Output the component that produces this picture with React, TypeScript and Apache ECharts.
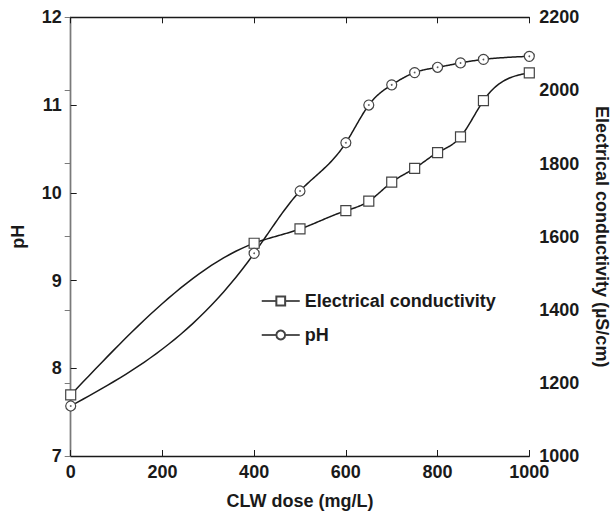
import React, { useEffect, useRef } from "react";
import * as echarts from "echarts";

const doses = [0, 400, 500, 600, 650, 700, 750, 800, 850, 900, 1000];
const phValues = [7.57, 9.31, 10.02, 10.57, 11.0, 11.23, 11.37, 11.43, 11.48, 11.52, 11.555];
const ecValues = [1167, 1582, 1621, 1671, 1697, 1749, 1787, 1830, 1873, 1972, 2048];

const FONT = "'Liberation Sans', Arial, Helvetica, sans-serif";
const INK = "#1a1a1a";

// natural cubic spline second derivatives
function splineM(xs: number[], ys: number[]): number[] {
  const n = xs.length;
  const h: number[] = [];
  for (let i = 0; i < n - 1; i++) h.push(xs[i + 1] - xs[i]);
  const a: number[] = new Array(n).fill(0);
  const b: number[] = new Array(n).fill(1);
  const c: number[] = new Array(n).fill(0);
  const d: number[] = new Array(n).fill(0);
  for (let i = 1; i < n - 1; i++) {
    a[i] = h[i - 1];
    b[i] = 2 * (h[i - 1] + h[i]);
    c[i] = h[i];
    d[i] = 6 * ((ys[i + 1] - ys[i]) / h[i] - (ys[i] - ys[i - 1]) / h[i - 1]);
  }
  const cp: number[] = new Array(n).fill(0);
  const dp: number[] = new Array(n).fill(0);
  cp[0] = c[0] / b[0];
  dp[0] = d[0] / b[0];
  for (let i = 1; i < n; i++) {
    const m = b[i] - a[i] * cp[i - 1];
    cp[i] = c[i] / m;
    dp[i] = (d[i] - a[i] * dp[i - 1]) / m;
  }
  const M: number[] = new Array(n).fill(0);
  M[n - 1] = dp[n - 1];
  for (let i = n - 2; i >= 0; i--) M[i] = dp[i] - cp[i] * M[i + 1];
  return M;
}

function splineSegment(xs: number[], ys: number[], M: number[], i: number, steps: number): number[][] {
  const x0 = xs[i], x1 = xs[i + 1];
  const y0 = ys[i], y1 = ys[i + 1];
  const h = x1 - x0;
  const pts: number[][] = [];
  for (let k = 0; k <= steps; k++) {
    const x = x0 + (h * k) / steps;
    const A = (x1 - x) / h;
    const B = (x - x0) / h;
    const y = A * y0 + B * y1 + ((A * A * A - A) * M[i] + (B * B * B - B) * M[i + 1]) * (h * h) / 6;
    pts.push([x, y]);
  }
  return pts;
}

export default function App() {
  const ref = useRef<HTMLDivElement>(null);
  useEffect(() => {
    document.body.style.margin = "0";
    if (!ref.current) return;
    const chart = echarts.init(ref.current, undefined, { renderer: "svg" });
    const phData = doses.map((d, i) => [d, phValues[i]]);
    const ecData = doses.map((d, i) => [d, ecValues[i]]);
    const phM = splineM(doses, phValues);
    const ecM = splineM(doses, ecValues);
    const makeRender = (ys: number[], M: number[]) => (params: any, api: any) => {
      const i = params.dataIndex;
      if (i >= doses.length - 1) return null;
      const pts = splineSegment(doses, ys, M, i, 30).map((p) => api.coord(p));
      return {
        type: "polyline",
        shape: { points: pts },
        style: { stroke: INK, lineWidth: 1.5, fill: "none" },
        silent: true,
      };
    };
    const labelStyle = { color: INK, fontFamily: FONT, fontWeight: "bold" as const, fontSize: 18 };
    const nameStyle = { color: INK, fontFamily: FONT, fontWeight: "bold" as const, fontSize: 18 };
    chart.setOption({
      animation: false,
      backgroundColor: "#ffffff",
      grid: { left: 70.7, right: 81.7, top: 17.3, bottom: 55, containLabel: false, outerBoundsMode: "none" },
      legend: {
        data: ["Electrical conductivity", "pH"],
        orient: "vertical",
        left: 261,
        top: 292,
        padding: 0,
        itemWidth: 38,
        itemHeight: 11,
        itemGap: 16,
        lineStyle: { color: INK, width: 1.5, opacity: 1 },
        textStyle: { color: INK, fontFamily: FONT, fontWeight: "bold", fontSize: 18 },
      },
      xAxis: [
        {
          type: "value",
          min: 0,
          max: 1000,
          interval: 200,
          position: "bottom",
          name: "CLW dose (mg/L)",
          nameLocation: "middle",
          nameGap: 36,
          nameTextStyle: nameStyle,
          axisLine: { show: true, lineStyle: { color: INK, width: 1.3 } },
          axisTick: { show: true, inside: true, length: 6, lineStyle: { color: INK } },
          axisLabel: { ...labelStyle, margin: 7, formatter: (v: number) => String(v) },
          splitLine: { show: false },
        },
        {
          type: "value",
          min: 0,
          max: 1000,
          interval: 200,
          position: "top",
          axisLine: { show: true, lineStyle: { color: INK, width: 1.3 } },
          axisTick: { show: true, inside: true, length: 6, lineStyle: { color: INK } },
          axisLabel: { show: false },
          splitLine: { show: false },
        },
      ],
      yAxis: [
        {
          type: "value",
          min: 7,
          max: 12,
          interval: 1,
          position: "left",
          name: "pH",
          nameLocation: "middle",
          nameGap: 44,
          nameRotate: 90,
          nameTextStyle: nameStyle,
          axisLine: { show: true, lineStyle: { color: INK, width: 1.3 } },
          axisTick: { show: true, inside: true, length: 6, lineStyle: { color: INK } },
          axisLabel: { ...labelStyle, margin: 9, formatter: (v: number) => String(v) },
          splitLine: { show: false },
        },
        {
          type: "value",
          min: 1000,
          max: 2200,
          interval: 200,
          position: "right",
          name: "Electrical conductivity (µS/cm)",
          nameLocation: "middle",
          nameGap: 64,
          nameRotate: -90,
          nameTextStyle: nameStyle,
          axisLine: { show: true, lineStyle: { color: "#7a7a7a", width: 1.3 } },
          axisTick: { show: true, inside: true, length: 6, lineStyle: { color: "#7a7a7a" } },
          axisLabel: { ...labelStyle, margin: 10, formatter: (v: number) => String(v) },
          splitLine: { show: false },
        },
      ],
      series: [
        {
          name: "ec-curve",
          type: "custom",
          xAxisIndex: 0,
          yAxisIndex: 1,
          data: ecData,
          encode: { x: 0, y: 1 },
          renderItem: makeRender(ecValues, ecM),
          silent: true,
          z: 2,
        },
        {
          name: "ph-curve",
          type: "custom",
          xAxisIndex: 0,
          yAxisIndex: 0,
          data: phData,
          encode: { x: 0, y: 1 },
          renderItem: makeRender(phValues, phM),
          silent: true,
          z: 2,
        },
        {
          name: "Electrical conductivity",
          type: "line",
          xAxisIndex: 0,
          yAxisIndex: 1,
          data: ecData,
          symbol: "rect",
          symbolSize: 10,
          showAllSymbol: true,
          lineStyle: { color: INK, width: 1.5, opacity: 0 },
          itemStyle: { color: "#ffffff", borderColor: "#444", borderWidth: 1.2 },
          z: 3,
        },
        {
          name: "pH",
          type: "line",
          xAxisIndex: 0,
          yAxisIndex: 0,
          data: phData,
          symbol: "circle",
          symbolSize: 10,
          showAllSymbol: true,
          lineStyle: { color: INK, width: 1.5, opacity: 0 },
          itemStyle: { color: "#ffffff", borderColor: "#444", borderWidth: 1.2 },
          z: 3,
        },
        {
          name: "pH-dot",
          type: "scatter",
          xAxisIndex: 0,
          yAxisIndex: 0,
          data: phData,
          symbol: "circle",
          symbolSize: 1.8,
          itemStyle: { color: "#333" },
          silent: true,
          z: 4,
        },
      ],
    });
    return () => chart.dispose();
  }, []);
  return <div ref={ref} style={{ width: 611, height: 511 }} />;
}
